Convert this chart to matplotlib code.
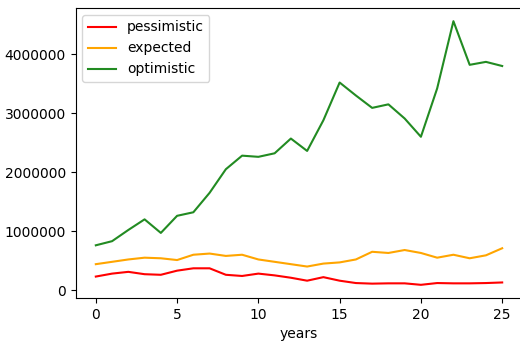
import matplotlib
matplotlib.use("Agg")
import matplotlib.pyplot as plt
from matplotlib.ticker import ScalarFormatter

years = list(range(26))
pessimistic = [230000, 280000, 310000, 270000, 260000, 330000, 370000, 370000, 260000, 240000,
               280000, 250000, 210000, 160000, 220000, 160000, 120000, 110000, 115000, 115000,
               90000, 120000, 115000, 115000, 120000, 130000]
expected = [440000, 480000, 520000, 550000, 540000, 510000, 600000, 620000, 580000, 600000,
            520000, 480000, 440000, 400000, 450000, 470000, 520000, 650000, 630000, 680000,
            630000, 550000, 600000, 540000, 590000, 710000]
optimistic = [760000, 830000, 1020000, 1200000, 970000, 1260000, 1320000, 1650000, 2050000, 2280000,
              2260000, 2320000, 2570000, 2360000, 2880000, 3520000, 3300000, 3090000, 3150000, 2910000,
              2600000, 3420000, 4560000, 3820000, 3870000, 3800000]

fig = plt.figure(figsize=(5.2, 3.43), dpi=100)
ax = fig.add_axes([75.5/520, 45/343, 447/520, 290/343])
ax.plot(years, pessimistic, color="red", label="pessimistic")
ax.plot(years, expected, color="orange", label="expected")
ax.plot(years, optimistic, color="forestgreen", label="optimistic")
fmt = ScalarFormatter(useOffset=False)
fmt.set_scientific(False)
ax.yaxis.set_major_formatter(fmt)
ax.set_xlabel("years")
ax.legend(loc="upper left")
fig.savefig("out.png", dpi=100)
